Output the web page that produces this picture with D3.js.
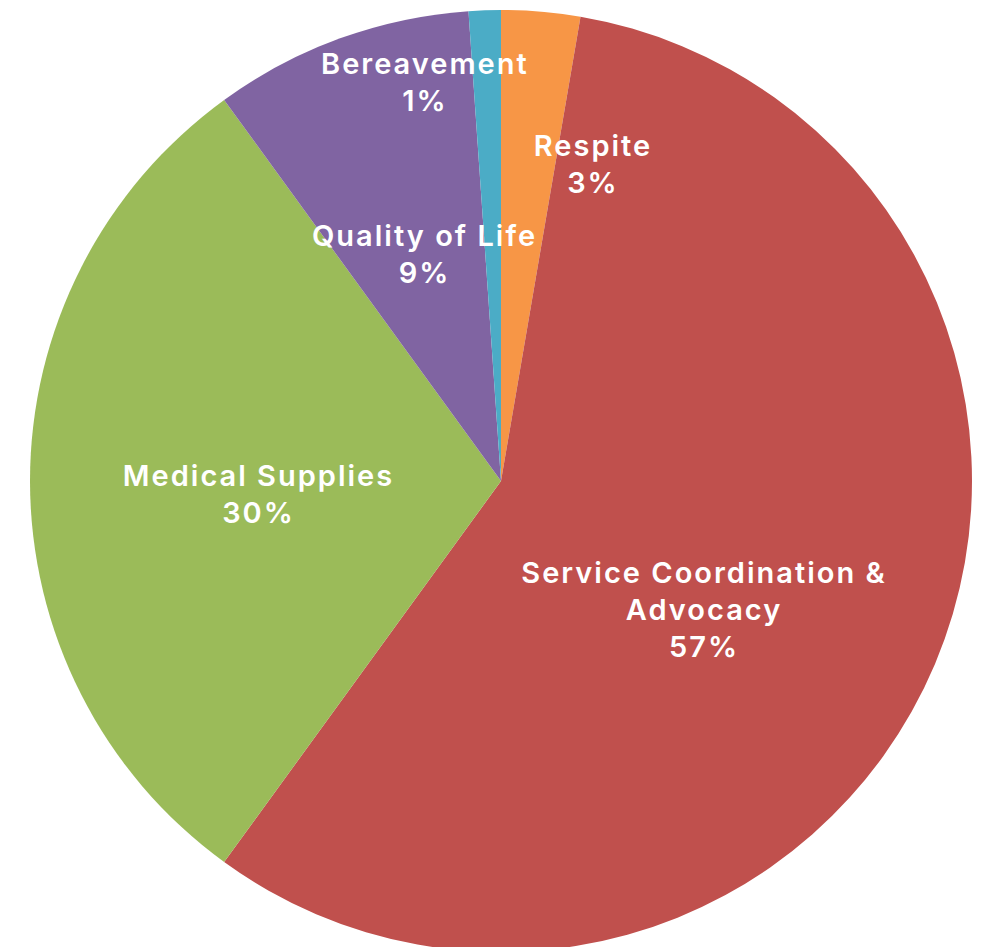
<!DOCTYPE html>
<html>
<head>
<meta charset="utf-8">
<script src="https://cdn.jsdelivr.net/npm/d3@7"></script>
<style>
  html, body { margin: 0; padding: 0; background: #fff; }
  text { font-family: Inter, "Open Sans", sans-serif; font-weight: 600; fill: #fff; letter-spacing: 2px; }
</style>
</head>
<body>
<svg id="chart" width="988" height="947"></svg>
<script>
// slices, clockwise from 12 o'clock
var categories = ["Respite", "Service Coordination & Advocacy", "Medical Supplies", "Quality of Life", "Bereavement"];
var labelLines = [["Respite"], ["Service Coordination &", "Advocacy"], ["Medical Supplies"], ["Quality of Life"], ["Bereavement"]];
var values = [2.7, 57.3, 30.0, 8.9, 1.1];
var colors = ["#F79646", "#C0504D", "#9BBB59", "#8064A2", "#4BACC6"];

// label nudges off the arc centroid (px)
var labelNudge = [[72, -82], [-14, 37], [-7, 13], [4, -5], [-68, -163]];

var width = 988, height = 947,
    cx = 501, cy = 481,
    radius = 471,
    fontSize = 29,
    lineHeight = 37;

var svg = d3.select("#chart");
var g = svg.append("g").attr("transform", "translate(" + cx + "," + cy + ")");

var total = d3.sum(values);
var pct = d3.format(".0%");

var pie = d3.pie().sort(null).value(function(d) { return d; });
var arcs = pie(values);

var arc = d3.arc().innerRadius(0).outerRadius(radius);
var labelArc = d3.arc().innerRadius(radius * 0.5).outerRadius(radius * 0.5);

g.selectAll("path")
    .data(arcs)
    .enter().append("path")
    .attr("d", arc)
    .attr("fill", function(d, i) { return colors[i]; });

var label = g.selectAll(".label")
    .data(arcs)
    .enter().append("text")
    .attr("class", "label")
    .attr("text-anchor", "middle")
    .style("font-size", fontSize + "px")
    .attr("transform", function(d, i) {
        var c = labelArc.centroid(d);
        return "translate(" + (c[0] + labelNudge[i][0]) + "," + (c[1] + labelNudge[i][1]) + ")";
    });

label.each(function(d, i) {
    var lines = labelLines[i].concat([pct(d.data / total)]);
    var t = d3.select(this);
    var y0 = -(lines.length - 1) * lineHeight / 2 + fontSize * 0.35;
    lines.forEach(function(s, k) {
        t.append("tspan")
            .attr("x", 0)
            .attr("y", y0 + k * lineHeight)
            .text(s);
    });
});
</script>
</body>
</html>
